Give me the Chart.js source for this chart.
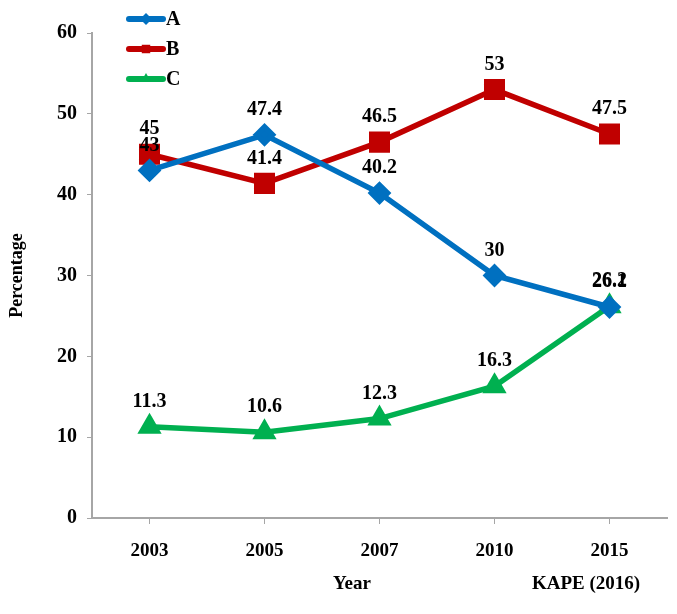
<!DOCTYPE html>
<html>
<head>
<meta charset="utf-8">
<script src="https://cdn.jsdelivr.net/npm/chart.js@4.4.1/dist/chart.umd.min.js"></script>
<style>
  html, body { margin: 0; padding: 0; background: #fff; }
  #wrap { width: 677px; height: 614px; }
</style>
</head>
<body>
<div id="wrap"><canvas id="myChart" width="677" height="614"></canvas></div>
<script>
const years = ["2003", "2005", "2007", "2010", "2015"];
const seriesA = [43, 47.4, 40.2, 30, 26.1];
const seriesB = [45, 41.4, 46.5, 53, 47.5];
const seriesC = [11.3, 10.6, 12.3, 16.3, 26.2];
const yTicks = [0, 10, 20, 30, 40, 50, 60];

const serif = "'Liberation Serif', 'Times New Roman', serif";

// value labels above each point
const valueLabels = {
  id: "valueLabels",
  afterDatasetsDraw(chart) {
    const ctx = chart.ctx;
    ctx.save();
    ctx.font = "bold 20px " + serif;
    ctx.fillStyle = "#000";
    ctx.textAlign = "center";
    ctx.textBaseline = "middle";
    chart.data.datasets.forEach((ds, i) => {
      chart.getDatasetMeta(i).data.forEach((pt, j) => {
        ctx.fillText(String(ds.data[j]), pt.x, pt.y - 25);
      });
    });
    ctx.restore();
  }
};

// vertical legend in the top left + axis title + source note
const sideLegend = {
  id: "sideLegend",
  afterDraw(chart) {
    const ctx = chart.ctx;
    ctx.save();
    chart.data.datasets.forEach((ds, i) => {
      const y = 19 + i * 30;
      ctx.strokeStyle = ds.borderColor;
      ctx.lineWidth = 6;
      ctx.lineCap = "round";
      ctx.beginPath();
      ctx.moveTo(129, y);
      ctx.lineTo(163, y);
      ctx.stroke();
      ctx.fillStyle = ds.borderColor;
      Chart.helpers.drawPoint(ctx, {pointStyle: ds.pointStyle, radius: 6, borderWidth: 0}, 146, y);
      ctx.fillStyle = "#000";
      ctx.font = "bold 20px " + serif;
      ctx.textAlign = "left";
      ctx.textBaseline = "middle";
      ctx.fillText(ds.label, 166, y + 1);
    });
    ctx.font = "bold 19px " + serif;
    ctx.textAlign = "center";
    ctx.textBaseline = "middle";
    ctx.fillText("Year", 352, 584);
    ctx.fillText("KAPE (2016)", 586, 584);
    ctx.restore();
  }
};

const ctx = document.getElementById("myChart").getContext("2d");
new Chart(ctx, {
  type: "line",
  data: {
    labels: years,
    datasets: [
      {
        label: "A",
        data: seriesA,
        borderColor: "#0070C0",
        backgroundColor: "#0070C0",
        pointStyle: "rectRot",
        pointRadius: 8,
        borderWidth: 5.5,
      },
      {
        label: "B",
        data: seriesB,
        borderColor: "#C00000",
        backgroundColor: "#C00000",
        pointStyle: "rect",
        pointRadius: 11,
        borderWidth: 5.5,
      },
      {
        label: "C",
        data: seriesC,
        borderColor: "#00B050",
        backgroundColor: "#00B050",
        pointStyle: "triangle",
        pointRadius: 8.5,
        borderWidth: 5.5,
      },
    ],
  },
  options: {
    responsive: false,
    animation: false,
    layout: { autoPadding: false, padding: { top: 33, right: 10, left: 0, bottom: 0 } },
    plugins: {
      legend: { display: false },
      tooltip: { enabled: false },
    },
    scales: {
      x: {
        offset: true,
        grid: { offset: false, drawOnChartArea: false, tickLength: 6, color: "#A6A6A6" },
        border: { color: "#A6A6A6", width: 2 },
        ticks: { color: "#000", font: { family: serif, size: 19, weight: "bold" }, padding: 16 },
        afterFit(scale) {
          scale.height = 96;
          scale.paddingLeft = 0;
          scale.paddingRight = 0;
        },
      },
      y: {
        min: 0,
        max: 60,
        afterBuildTicks(scale) { scale.ticks = yTicks.map(v => ({ value: v })); },
        grid: { drawOnChartArea: false, tickLength: 5, color: "#A6A6A6" },
        border: { color: "#A6A6A6", width: 2 },
        ticks: { color: "#000", font: { family: serif, size: 20, weight: "bold" }, padding: 10 },
        title: { display: true, text: "Percentage", color: "#000", font: { family: serif, size: 18, weight: "bold" }, padding: { top: 7, bottom: 0 } },
        afterFit(scale) { scale.width = 92; },
      },
    },
  },
  plugins: [valueLabels, sideLegend],
});
</script>
</body>
</html>
